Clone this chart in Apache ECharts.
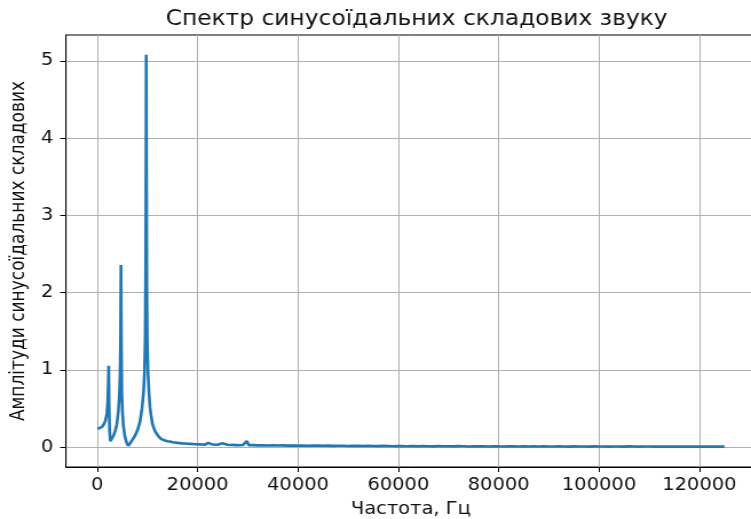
<!DOCTYPE html>
<html>
<head>
<meta charset="utf-8">
<script src="https://cdn.jsdelivr.net/npm/echarts@6/dist/echarts.min.js"></script>
<style>
html,body{margin:0;padding:0;background:#fff;overflow:hidden;}
#wrap{width:751px;height:519px;overflow:hidden;}
#c{width:656px;height:519px;transform:scaleX(1.1448);transform-origin:0 0;}
</style>
</head>
<body>
<div id="wrap"><div id="c"></div></div>
<script>
const titleText = 'Спектр синусоїдальних складових звуку';
const xName = 'Частота, Гц';
const yName = 'Амплітуди синусоїдальних складових';
const xTicks = [0, 20000, 40000, 60000, 80000, 100000, 120000];
const yTicks = [0, 1, 2, 3, 4, 5];

const freqLow = [0, 500, 1000, 1300, 1600, 1900, 2100, 2200, 2270, 2350, 2450, 2600, 2700, 3000, 3300, 3600, 3900, 4200, 4400, 4550, 4650, 4720, 4800, 4900, 5000, 5200, 5500, 5800, 6150, 6500, 7000, 7500, 8000, 8500, 8900, 9200, 9400, 9550, 9650, 9720, 9750, 9800, 9870, 9950, 10100, 10300, 10500, 10700, 11000, 11500, 12000, 12500, 13000, 13500, 14000, 14500, 15000, 15500, 16000, 16500, 17000, 17500, 18000, 18500, 19000, 19500, 20000, 20500, 21000, 21500, 22100, 22500, 23000, 23500, 24000, 24800, 25200, 26000, 26500, 27000, 27500, 28000, 28500, 29000, 29400, 29800, 30200, 30600];
const ampLow = [0.24, 0.25, 0.27, 0.30, 0.34, 0.43, 0.62, 0.85, 1.056, 0.55, 0.22, 0.08, 0.06, 0.10, 0.16, 0.22, 0.30, 0.47, 0.66, 0.95, 1.5, 2.36, 1.3, 0.7, 0.48, 0.28, 0.14, 0.07, 0.02, 0.05, 0.10, 0.15, 0.22, 0.33, 0.50, 0.70, 0.95, 1.4, 2.4, 4.0, 5.08, 3.6, 2.1, 1.4, 0.98, 0.70, 0.52, 0.42, 0.30, 0.21, 0.16, 0.12, 0.10, 0.09, 0.08, 0.075, 0.066, 0.062, 0.058, 0.055, 0.05, 0.049, 0.046, 0.045, 0.043, 0.041, 0.040, 0.039, 0.037, 0.036, 0.058, 0.034, 0.036, 0.033, 0.034, 0.052, 0.031, 0.033, 0.030, 0.032, 0.029, 0.031, 0.028, 0.030, 0.029, 0.082, 0.028, 0.027];
const freqTail = [31000, 32000, 33000, 34000, 35000, 36000, 37000, 38000, 39000, 40000, 41000, 42000, 43000, 44000, 45000, 46000, 47000, 48000, 49000, 50000, 51000, 52000, 53000, 54000, 55000, 56000, 57000, 58000, 59000, 60000, 61000, 62000, 63000, 64000, 65000, 66000, 67000, 68000, 69000, 70000, 71000, 72000, 73000, 74000, 75000, 76000, 77000, 78000, 79000, 80000, 81000, 82000, 83000, 84000, 85000, 86000, 87000, 88000, 89000, 90000, 91000, 92000, 93000, 94000, 95000, 96000, 97000, 98000, 99000, 100000, 101000, 102000, 103000, 104000, 105000, 106000, 107000, 108000, 109000, 110000, 111000, 112000, 113000, 114000, 115000, 116000, 117000, 118000, 119000, 120000, 121000, 122000, 123000, 124000, 125000];
const ampTail = [0.029, 0.026, 0.028, 0.025, 0.027, 0.024, 0.026, 0.023, 0.025, 0.022, 0.024, 0.021, 0.023, 0.022, 0.020, 0.023, 0.019, 0.021, 0.020, 0.018, 0.021, 0.019, 0.017, 0.020, 0.018, 0.016, 0.019, 0.017, 0.015, 0.018, 0.016, 0.015, 0.017, 0.014, 0.016, 0.015, 0.013, 0.016, 0.014, 0.015, 0.013, 0.016, 0.014, 0.012, 0.015, 0.013, 0.014, 0.012, 0.015, 0.013, 0.012, 0.014, 0.013, 0.011, 0.014, 0.012, 0.013, 0.011, 0.014, 0.012, 0.011, 0.013, 0.012, 0.010, 0.013, 0.011, 0.012, 0.010, 0.013, 0.011, 0.012, 0.010, 0.012, 0.011, 0.010, 0.013, 0.011, 0.010, 0.012, 0.011, 0.009, 0.012, 0.010, 0.011, 0.009, 0.012, 0.010, 0.011, 0.009, 0.011, 0.010, 0.009, 0.011, 0.010, 0.009];

const freqs = freqLow.concat(freqTail);
const amps = ampLow.concat(ampTail);
const seriesData = freqs.map((f, i) => [f, amps[i]]);

const FONT = 'DejaVu Sans';
const TXT = '#111';
const chart = echarts.init(document.getElementById('c'), null, {renderer: 'canvas'});
chart.setOption({
  animation: false,
  backgroundColor: '#fff',
  title: {
    text: titleText, left: 358.9, top: 5, textAlign: 'center',
    textStyle: {fontFamily: FONT, fontSize: 20.4, fontWeight: 'normal', color: TXT}
  },
  grid: {left: 57.6, top: 35, width: 602.6, height: 432, outerBoundsMode: 'none', containLabel: false,
    show: true, borderColor: '#000', borderWidth: 1, backgroundColor: 'transparent'},
  xAxis: {
    type: 'value', min: -6250, max: 131250,
    name: xName, nameLocation: 'middle', nameGap: 34,
    nameTextStyle: {fontFamily: FONT, fontSize: 17, color: TXT},
    axisLine: {show: true, onZero: false, lineStyle: {color: '#000', width: 1}},
    axisTick: {show: true, length: 5, customValues: xTicks, lineStyle: {color: '#000'}},
    axisLabel: {customValues: xTicks, formatter: v => String(v), fontFamily: FONT, fontSize: 17, color: TXT, margin: 10},
    splitLine: {show: true, lineStyle: {color: '#b0b0b0', width: 1}}
  },
  yAxis: {
    type: 'value', min: -0.254, max: 5.334,
    name: yName, nameLocation: 'middle', nameGap: 26, nameRotate: 90,
    nameTextStyle: {fontFamily: FONT, fontSize: 17, color: TXT},
    axisLine: {show: true, onZero: false, lineStyle: {color: '#000', width: 1}},
    axisTick: {show: true, length: 5, customValues: yTicks, lineStyle: {color: '#000'}},
    axisLabel: {customValues: yTicks, formatter: v => String(v), fontFamily: FONT, fontSize: 17, color: TXT, margin: 11},
    splitLine: {show: true, lineStyle: {color: '#b0b0b0', width: 1}}
  },
  series: [{
    type: 'line', data: seriesData, showSymbol: false, symbol: 'none',
    lineStyle: {color: '#1f77b4', width: 2.6}, z: 3
  }]
});
</script>
</body>
</html>
